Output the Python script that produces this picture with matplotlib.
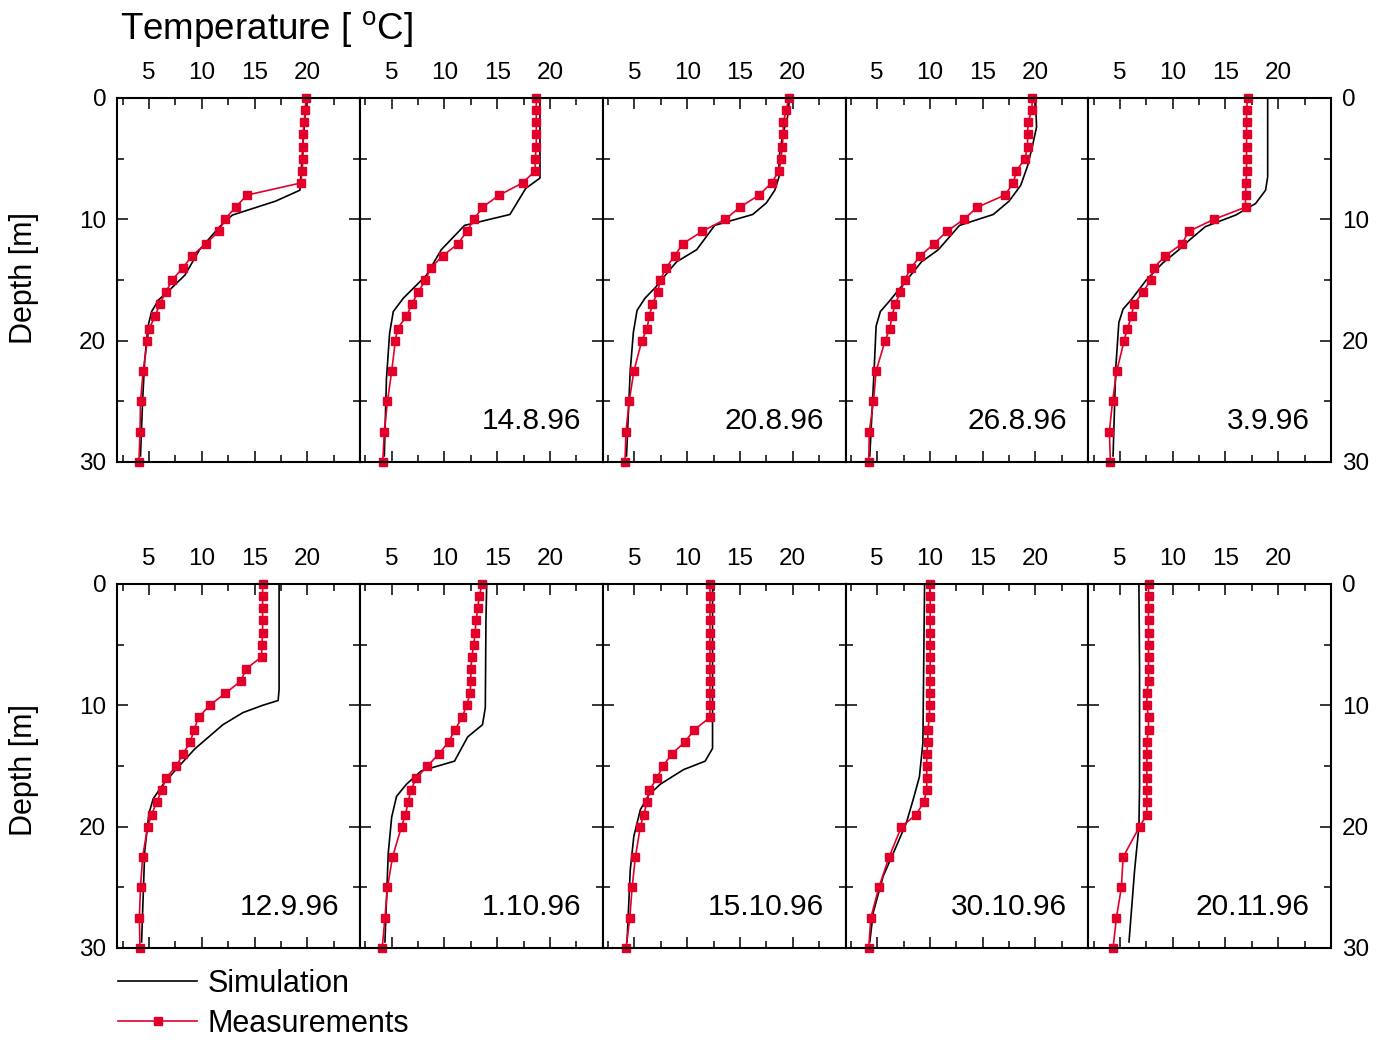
import matplotlib
matplotlib.use('Agg')
import matplotlib.pyplot as plt
from matplotlib.ticker import MultipleLocator

plt.rcParams['font.family'] = ['Liberation Sans', 'DejaVu Sans']
plt.rcParams['mathtext.fontset'] = 'custom'
plt.rcParams['mathtext.rm'] = 'Liberation Sans'

# fechas de cada perfil (el primero sin etiqueta)
fechas = ["", "14.8.96", "20.8.96", "26.8.96", "3.9.96",
          "12.9.96", "1.10.96", "15.10.96", "30.10.96", "20.11.96"]

# profundidades de las mediciones [m]
prof_med = [0, 1, 2, 3, 4, 5, 6, 7, 8, 9, 10, 11, 12, 13, 14, 15, 16, 17, 18, 19, 20,
            22.5, 25, 27.5, 30]

# temperaturas medidas [C]
temp_med = [
    [19.9, 19.8, 19.7, 19.6, 19.6, 19.6, 19.5, 19.4, 14.3, 13.2, 12.2, 11.6, 10.4, 9.1, 8.2,
     7.2, 6.6, 6.0, 5.6, 5.0, 4.85, 4.45, 4.2, 4.15, 4.05],
    [18.7, 18.7, 18.7, 18.7, 18.7, 18.6, 18.6, 17.4, 15.2, 13.6, 12.8, 12.1, 11.3, 9.85, 8.7,
     8.2, 7.5, 6.9, 6.4, 5.55, 5.35, 5.0, 4.6, 4.3, 4.15],
    [19.6, 19.4, 19.1, 19.1, 19.0, 18.9, 18.7, 18.0, 16.8, 15.0, 13.6, 11.4, 9.6, 8.8, 8.0,
     7.45, 7.2, 6.7, 6.4, 6.2, 5.7, 4.95, 4.5, 4.2, 4.1],
    [19.7, 19.65, 19.3, 19.25, 19.25, 19.0, 18.2, 17.9, 17.1, 14.5, 13.2, 11.6, 10.4, 9.1, 8.2,
     7.6, 7.2, 6.7, 6.4, 6.2, 5.75, 4.9, 4.65, 4.25, 4.2],
    [17.1, 17.0, 17.0, 17.0, 17.0, 17.0, 17.0, 16.95, 16.9, 16.9, 13.9, 11.5, 10.9, 9.3, 8.2,
     7.9, 7.2, 6.3, 6.1, 5.7, 5.4, 4.7, 4.3, 4.0, 4.1],
    [15.77, 15.77, 15.77, 15.77, 15.77, 15.7, 15.67, 14.2, 13.7, 12.25, 10.74, 9.7, 9.27, 8.92, 8.23,
     7.6, 6.6, 6.2, 5.72, 5.25, 4.87, 4.4, 4.2, 4.09, 4.15],
    [13.56, 13.3, 13.15, 13.0, 12.9, 12.77, 12.6, 12.5, 12.5, 12.43, 12.1, 11.67, 11.0, 10.4, 9.48,
     8.38, 7.34, 6.8, 6.56, 6.3, 5.93, 5.08, 4.6, 4.36, 4.1],
    [12.16, 12.16, 12.16, 12.16, 12.16, 12.16, 12.16, 12.16, 12.16, 12.16, 12.16, 12.16, 10.68, 9.8, 8.55,
     7.7, 7.13, 6.41, 6.19, 5.88, 5.56, 5.09, 4.78, 4.56, 4.2],
    [10.02, 10.02, 10.02, 10.02, 10.02, 10.02, 10.02, 10.02, 10.02, 9.96, 9.96, 9.96, 9.8, 9.8, 9.7,
     9.7, 9.7, 9.7, 9.4, 8.7, 7.3, 6.13, 5.16, 4.4, 4.2],
    [7.71, 7.71, 7.71, 7.71, 7.71, 7.71, 7.71, 7.71, 7.71, 7.55, 7.55, 7.71, 7.71, 7.55, 7.55,
     7.55, 7.55, 7.55, 7.55, 7.55, 6.86, 5.3, 5.14, 4.67, 4.35],
]

# perfiles simulados: profundidad [m] y temperatura [C]
prof_sim = [
    [0, 7.6, 8.5, 9.65, 10.6, 12.5, 14.6, 15.7, 16.65, 17.6, 18.85, 21.6, 24.9, 29.5],
    [0, 6.6, 7.45, 9.6, 10.5, 12.5, 14.6, 16.5, 17.6, 19.4, 23.2, 29.5],
    [0, 1.6, 3.0, 4.9, 6.5, 7.6, 8.65, 9.6, 10.5, 12.5, 13.5, 14.1, 15.6, 16.5, 17.5, 19.3, 22.5, 29.5],
    [0, 2.4, 4.0, 5.6, 7.2, 8.5, 9.6, 10.5, 12.5, 13.5, 15.0, 16.8, 17.6, 18.8, 22.6, 29.5],
    [0, 6.5, 7.6, 8.7, 9.65, 10.6, 11.7, 12.5, 13.6, 15.0, 16.6, 17.4, 18.5, 22.3, 29.5],
    [0, 8.7, 9.6, 10.0, 10.6, 11.6, 13.6, 15.4, 16.5, 17.7, 18.9, 22.0, 29.5],
    [0, 3, 10.2, 11.6, 12.6, 14.6, 15.4, 16.5, 17.5, 19.2, 22.2, 29.5],
    [0, 13.55, 14.6, 15.3, 16.5, 17.4, 18.6, 20.8, 23.6, 29.5],
    [0, 13.1, 15.9, 17.8, 19.7, 21.6, 24.1, 27.1, 29.5],
    [0, 7, 16.7, 20, 23.6, 29.5],
]
temp_sim = [
    [19.9, 19.3, 17.0, 12.9, 11.7, 9.8, 8.4, 7.1, 5.9, 5.25, 4.9, 4.6, 4.4, 4.2],
    [19.05, 19.05, 17.7, 16.2, 11.9, 9.7, 8.3, 6.1, 5.15, 4.8, 4.5, 4.3],
    [19.7, 19.5, 19.05, 18.7, 18.7, 18.3, 17.5, 16.2, 12.6, 10.9, 9.0, 8.4, 7.0, 6.0, 5.25, 4.9, 4.6, 4.25],
    [20.0, 20.1, 19.7, 19.25, 18.6, 17.5, 16.0, 12.8, 10.8, 9.2, 7.8, 6.1, 5.3, 4.9, 4.7, 4.3],
    [19.0, 19.0, 18.8, 17.85, 15.97, 13.1, 11.6, 10.6, 9.06, 7.5, 6.1, 5.3, 4.9, 4.6, 4.35],
    [17.33, 17.33, 17.24, 15.77, 13.9, 12.0, 9.33, 7.45, 6.35, 5.4, 5.0, 4.6, 4.3],
    [14.0, 13.93, 13.87, 13.6, 12.2, 10.95, 7.8, 6.4, 5.46, 5.0, 4.67, 4.36],
    [12.4, 12.4, 11.7, 9.65, 7.45, 6.35, 5.56, 4.94, 4.6, 4.3],
    [9.49, 9.33, 9.0, 8.4, 7.76, 6.82, 5.56, 4.62, 4.3],
    [6.8, 6.86, 6.86, 6.8, 6.39, 5.86],
]

rojo = '#e2002b'
W, H = 1377, 1040

fig = plt.figure(figsize=(W / 100, H / 100), dpi=100)

ancho = 242.74
alto = 364
for i in range(10):
    fila = i // 5
    col = i % 5
    x0 = 117.3 + col * ancho
    y0 = 98 + fila * 486
    ax = fig.add_axes([x0 / W, 1 - (y0 + alto) / H, ancho / W, alto / H])

    l_sim, = ax.plot(temp_sim[i], prof_sim[i], color='k', lw=1.2)
    l_med, = ax.plot(temp_med[i], prof_med, color=rojo, lw=1.2, marker='s', ms=5.3,
                     mec=rojo, mfc=rojo, clip_on=False)

    ax.set_xlim(2, 25)
    ax.set_ylim(30, 0)
    ax.xaxis.set_major_locator(MultipleLocator(5))
    ax.xaxis.set_minor_locator(MultipleLocator(2.5))
    ax.set_xticks([5, 10, 15, 20])
    ax.yaxis.set_major_locator(MultipleLocator(10))
    ax.yaxis.set_minor_locator(MultipleLocator(5))

    ax.tick_params(axis='x', which='both', direction='in', top=True, bottom=True,
                   labeltop=True, labelbottom=False)
    ax.tick_params(axis='y', which='both', direction='in', left=True, right=True,
                   labelleft=(col == 0), labelright=(col == 4))
    ax.tick_params(which='major', length=8, width=1.1, labelsize=17.5)
    ax.tick_params(axis='x', which='major', pad=10)
    ax.tick_params(axis='y', which='major', pad=8)
    ax.tick_params(which='minor', length=4.8, width=1.1)
    for s in ax.spines.values():
        s.set_linewidth(1.5)

    if fechas[i]:
        ax.text(0.913, 0.113, fechas[i], transform=ax.transAxes,
                ha='right', va='center', fontsize=21.5)

# textos generales
fig.text(120 / W, 1 - 30 / H, r'Temperature [ $^{\mathrm{o}}$C]', fontsize=26.5,
         ha='left', va='center')
for yc in [278, 770]:
    fig.text(24 / W, 1 - yc / H, 'Depth [m]', rotation=90, fontsize=22,
             ha='center', va='center')

fig.legend([l_sim, l_med], ['Simulation', 'Measurements'], loc='upper left',
           bbox_to_anchor=(118 / W, 1 - 969 / H), frameon=False, fontsize=22,
           handlelength=2.6, handletextpad=0.33, borderpad=0, borderaxespad=0,
           labelspacing=0.32)

fig.savefig('out.png', dpi=100)
